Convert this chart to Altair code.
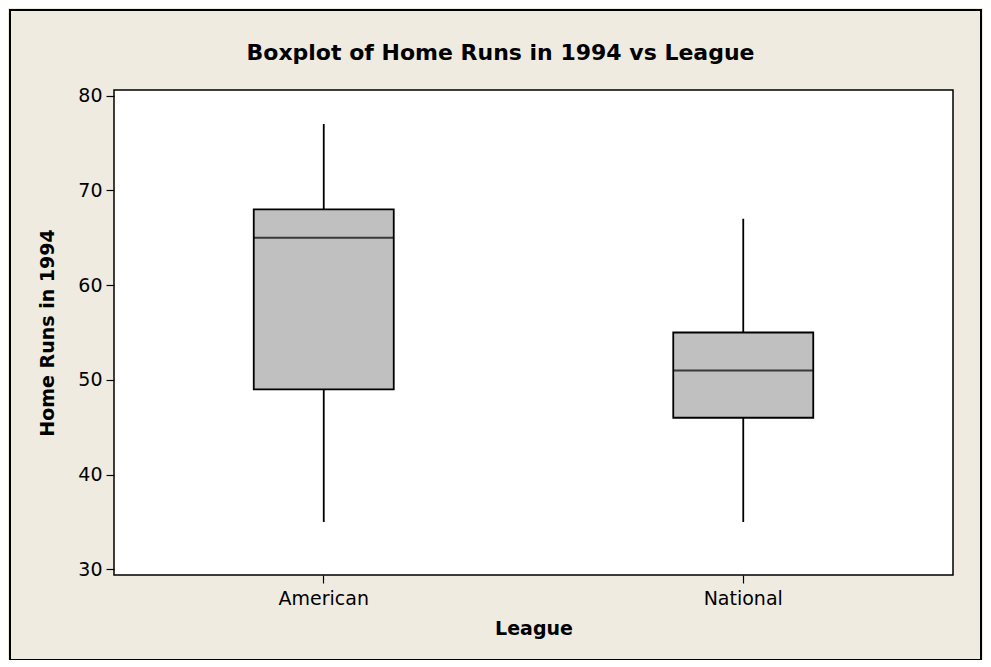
import altair as alt
import pandas as pd

leagues = ["American", "National"]
whisker_low = [35, 35]
q1 = [49, 46]
median = [65, 51]
q3 = [68, 55]
whisker_high = [77, 67]
y_ticks = [30, 40, 50, 60, 70, 80]

df = pd.DataFrame({
    "League": leagues,
    "lo": whisker_low,
    "q1": q1,
    "med": median,
    "q3": q3,
    "hi": whisker_high,
})

FONT = "DejaVu Sans"
BG = "#EFEBE1"

x_enc = alt.X(
    "League:N",
    title="League",
    scale=alt.Scale(paddingInner=0, paddingOuter=0),
    axis=alt.Axis(
        labelAngle=0, labelFontSize=19, labelFont=FONT, labelColor="black",
        titleFontSize=19, titleFont=FONT, titleFontWeight="bold", titleColor="black",
        tickColor="black", tickSize=8, tickWidth=1.2, domain=False,
        labelPadding=6, titlePadding=11,
    ),
)
y_scale = alt.Scale(domain=[29.4, 80.6], nice=False, zero=False)
y_axis = alt.Axis(
    values=y_ticks, grid=False, domain=False,
    labelFontSize=19, labelFont=FONT, labelColor="black",
    titleFontSize=19, titleFont=FONT, titleFontWeight="bold", titleColor="black",
    tickColor="black", tickSize=8, tickWidth=1.2, labelPadding=4, titlePadding=20,
)

base = alt.Chart(df)

whisk = base.mark_rule(color="black", strokeWidth=1.8).encode(
    x=x_enc,
    y=alt.Y("lo:Q", scale=y_scale, axis=y_axis, title="Home Runs in 1994"),
    y2="hi:Q",
)
box = base.mark_bar(size=140, fill="#C0C0C0", stroke="black", strokeWidth=1.8).encode(
    x=x_enc,
    y=alt.Y("q1:Q", scale=y_scale),
    y2="q3:Q",
)
med = base.mark_tick(size=140, thickness=2, color="black").encode(
    x=x_enc,
    y=alt.Y("med:Q", scale=y_scale),
)
border = alt.Chart(pd.DataFrame({"a": [0]})).mark_rect(
    fill=None, stroke="black", strokeWidth=2
).encode(
    x=alt.value(-104), x2=alt.value(867), y=alt.value(-80), y2=alt.value(570)
)

chart = alt.layer(border, whisk, box, med).properties(
    width=839,
    height=485,
    title=alt.TitleParams(
        "Boxplot of Home Runs in 1994 vs League",
        font=FONT, fontSize=22, fontWeight="bold", color="black",
        anchor="middle", frame="group", dx=-33, offset=-56,
    ),
    autosize=alt.AutoSizeParams(type="none"),
    padding={"left": 106, "top": 82, "right": 30, "bottom": 85},
    background=BG,
).configure_view(fill="white", stroke="black", strokeWidth=1.5)

chart.save("out.html", embed_options={"renderer": "svg", "actions": False})
